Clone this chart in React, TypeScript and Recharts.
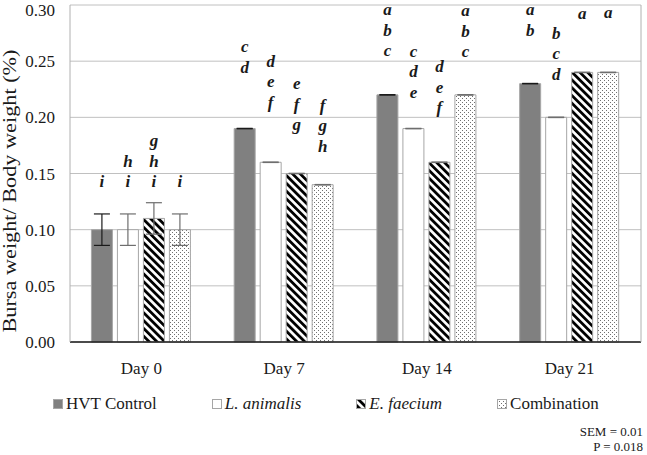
import React from 'react';
import { BarChart, Bar, XAxis, YAxis, CartesianGrid, ErrorBar, LabelList } from 'recharts';

const days = ['Day 0', 'Day 7', 'Day 14', 'Day 21'];
const yTicks = [0, 0.05, 0.1, 0.15, 0.2, 0.25, 0.3];

const hvt = [0.10, 0.19, 0.22, 0.23];
const animalis = [0.10, 0.16, 0.19, 0.20];
const faecium = [0.11, 0.15, 0.16, 0.24];
const combo = [0.10, 0.14, 0.22, 0.24];

const hvtErr = [0.014, 0.0002, 0.0002, 0.0002];
const animalisErr = [0.014, 0.0002, 0.0002, 0.0002];
const faeciumErr = [0.014, 0.0002, 0.0002, 0.0002];
const comboErr = [0.014, 0.0002, 0.0002, 0.0002];

// significance letters, and the value where the lowest letter sits
const hvtLetters = ['i', 'cd', 'abc', 'ab'];
const animalisLetters = ['hi', 'def', 'cde', 'bcd'];
const faeciumLetters = ['ghi', 'efg', 'def', 'a'];
const comboLetters = ['i', 'fgh', 'abc', 'a'];

const hvtLetterAt = [0.142, 0.244, 0.259, 0.277];
const animalisLetterAt = [0.142, 0.213, 0.222, 0.238];
const faeciumLetterAt = [0.142, 0.193, 0.208, 0.292];
const comboLetterAt = [0.142, 0.174, 0.258, 0.293];

const data = days.map((day, i) => ({
  day,
  hvt: hvt[i],
  animalis: animalis[i],
  faecium: faecium[i],
  combo: combo[i],
  hvtErr: hvtErr[i],
  animalisErr: animalisErr[i],
  faeciumErr: faeciumErr[i],
  comboErr: comboErr[i],
  hvtL: hvtLetters[i],
  animalisL: animalisLetters[i],
  faeciumL: faeciumLetters[i],
  comboL: comboLetters[i],
}));

const serif = 'Liberation Serif, Tinos, Times New Roman, DejaVu Serif, serif';
const barStroke = '#a6a6a6';

const makeLetters = (values: number[], anchors: number[]) => (props: any) => {
  const vb = props.viewBox || props;
  const { x, y, width, height } = vb;
  const i = props.index;
  const str: string = String(props.value ?? '');
  const perUnit = height / values[i];
  const bottom = y + height;
  const baseY = bottom - anchors[i] * perUnit + 5;
  const chars = str.split('');
  return (
    <g>
      {chars.map((c, k) => (
        <text
          key={k}
          x={x + width / 2}
          y={baseY - (chars.length - 1 - k) * 20.5}
          textAnchor="middle"
          fontFamily={serif}
          fontStyle="italic"
          fontWeight="bold"
          fontSize={17}
          fill="#1a1a1a"
        >
          {c}
        </text>
      ))}
    </g>
  );
};

const legendItems = [
  { label: 'HVT Control', fill: '#808080', italic: false },
  { label: 'L. animalis', fill: '#ffffff', italic: true },
  { label: 'E. faecium', fill: 'url(#stripes)', italic: true },
  { label: 'Combination', fill: 'url(#dots)', italic: false },
];

export default function App() {
  return (
    <div style={{ position: 'absolute', left: 0, top: 0, width: 647, height: 455, background: '#fff' }}>
      <BarChart
        width={647}
        height={390}
        data={data}
        margin={{ top: 5, right: 5, left: 0, bottom: 0 }}
        barCategoryGap="15%"
        barGap={5}
      >
        <defs>
          <pattern id="stripes" patternUnits="userSpaceOnUse" width="5.5" height="5.5" patternTransform="rotate(-45)">
            <rect width="5.5" height="5.5" fill="#ffffff" />
            <rect width="2.8" height="5.5" fill="#000000" />
          </pattern>
          <pattern id="dots" patternUnits="userSpaceOnUse" width="4" height="4">
            <rect width="4" height="4" fill="#ffffff" />
            <rect x="0" y="0" width="1" height="1" fill="#707070" />
            <rect x="2" y="2" width="1" height="1" fill="#707070" />
          </pattern>
        </defs>
        <CartesianGrid vertical={false} stroke="#c0c0c0" />
        <XAxis
          dataKey="day"
          height={48}
          axisLine={{ stroke: '#1a1a1a', strokeWidth: 1.5 }}
          tickLine={false}
          tickSize={6}
          tickMargin={14}
          tick={{ fontFamily: serif, fontSize: 17, fill: '#1a1a1a' }}
        />
        <YAxis
          width={70}
          domain={[0, 0.3]}
          ticks={yTicks}
          tickFormatter={(v: number) => v.toFixed(2)}
          axisLine={{ stroke: '#b0b0b0' }}
          tickLine={false}
          tickSize={6}
          tickMargin={9}
          tick={{ fontFamily: serif, fontSize: 17, fill: '#1a1a1a' }}
        />
        <YAxis yAxisId="r" orientation="right" width={1} tick={false} tickLine={false} axisLine={{ stroke: '#b0b0b0' }} />
        <Bar dataKey="hvt" fill="#808080" stroke={barStroke} isAnimationActive={false}>
          <ErrorBar dataKey="hvtErr" width={8} stroke="#1a1a1a" strokeWidth={1.2} />
          <LabelList dataKey="hvtL" content={makeLetters(hvt, hvtLetterAt)} />
        </Bar>
        <Bar dataKey="animalis" fill="#ffffff" stroke={barStroke} isAnimationActive={false}>
          <ErrorBar dataKey="animalisErr" width={8} stroke="#6e6e6e" strokeWidth={1.2} />
          <LabelList dataKey="animalisL" content={makeLetters(animalis, animalisLetterAt)} />
        </Bar>
        <Bar dataKey="faecium" fill="url(#stripes)" stroke={barStroke} isAnimationActive={false}>
          <ErrorBar dataKey="faeciumErr" width={8} stroke="#6e6e6e" strokeWidth={1.2} />
          <LabelList dataKey="faeciumL" content={makeLetters(faecium, faeciumLetterAt)} />
        </Bar>
        <Bar dataKey="combo" fill="url(#dots)" stroke={barStroke} isAnimationActive={false}>
          <ErrorBar dataKey="comboErr" width={8} stroke="#6e6e6e" strokeWidth={1.2} />
          <LabelList dataKey="comboL" content={makeLetters(combo, comboLetterAt)} />
        </Bar>
      </BarChart>

      <svg
        width={24}
        height={390}
        style={{ position: 'absolute', left: 0, top: 0 }}
      >
        <text
          transform="translate(16,191) rotate(-90)"
          textAnchor="middle"
          fontFamily={serif}
          fontSize={19}
          fill="#1a1a1a"
          textLength={283}
          lengthAdjust="spacingAndGlyphs"
        >
          Bursa weight/ Body weight (%)
        </text>
      </svg>

      <div
        style={{
          position: 'absolute',
          left: 53,
          top: 394,
          display: 'flex',
          alignItems: 'center',
          gap: 55,
          fontFamily: serif,
          fontSize: 17,
          color: '#1a1a1a',
          whiteSpace: 'nowrap',
        }}
      >
        {legendItems.map((it) => (
          <div key={it.label} style={{ display: 'flex', alignItems: 'center', gap: 3 }}>
            <svg width={10} height={10}>
              <rect x={0.5} y={0.5} width={9} height={9} fill={it.fill} stroke={barStroke} />
            </svg>
            <span style={{ fontStyle: it.italic ? 'italic' : 'normal' }}>{it.label}</span>
          </div>
        ))}
      </div>

      <div
        style={{
          position: 'absolute',
          right: 4,
          top: 424,
          textAlign: 'right',
          fontFamily: serif,
          fontSize: 13,
          lineHeight: '15px',
          color: '#1a1a1a',
        }}
      >
        <div>SEM = 0.01</div>
        <div>P = 0.018</div>
      </div>
    </div>
  );
}
